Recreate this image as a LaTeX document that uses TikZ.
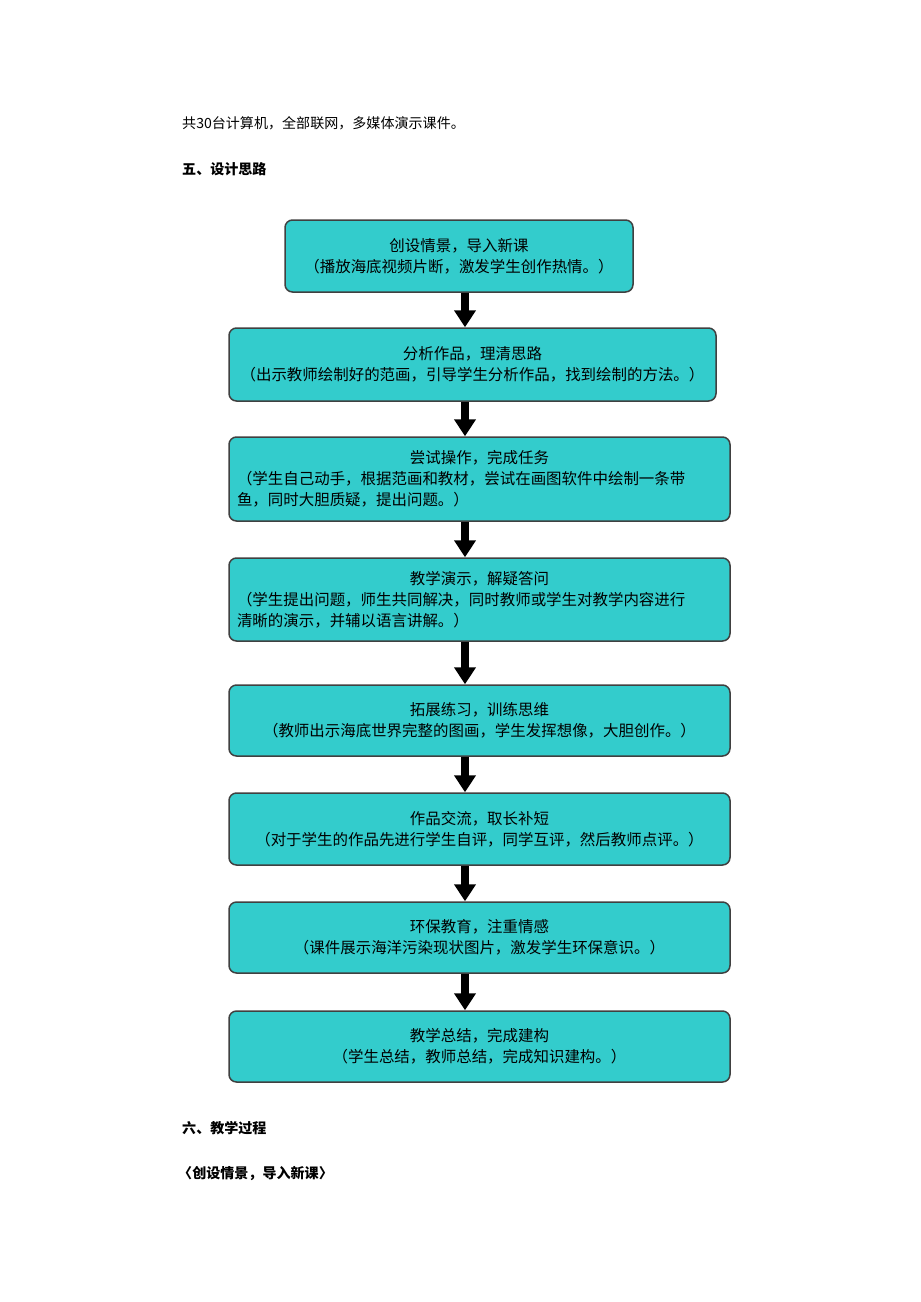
\documentclass[tikz,border=0pt]{standalone}
\usepackage{fontspec}
\setmainfont{Noto Sans CJK SC}
\usetikzlibrary{arrows.meta,positioning}
\definecolor{boxfill}{HTML}{33CCCC}
\tikzset{
  stage/.style={draw=black!75, line width=0.03cm, fill=boxfill, rounded corners=0.15cm,
    align=center, font=\fontsize{8.8pt}{12pt}\selectfont, inner sep=0pt},
  flow/.style={line width=0.15cm, -{Triangle[width=0.42cm,length=0.34cm]}},
  plain/.style={anchor=west, font=\fontsize{8pt}{10pt}\selectfont}
}
\begin{document}
\begin{tikzpicture}[x=0.02cm,y=-0.02cm]
  \useasboundingbox (0,0) rectangle (920,1302);
  \node[plain] (intro) at (176,123) {共30台计算机，全部联网，多媒体演示课件。};
  \node[plain, font=\fontsize{8pt}{10pt}\bfseries\selectfont] (sec5) at (176,169) {五、设计思路};
  % flow boxes
  \node[stage, minimum width=348*0.02cm, minimum height=72*0.02cm] (s1) at (459,256)
    {创设情景，导入新课\\（播放海底视频片断，激发学生创作热情。）};
  \node[stage, minimum width=487*0.02cm, minimum height=73*0.02cm] (s2) at (472.5,364.5)
    {分析作品，理清思路\\（出示教师绘制好的范画，引导学生分析作品，找到绘制的方法。）};
  \node[stage, minimum width=501*0.02cm, minimum height=84*0.02cm, text width=485*0.02cm, align=left] (s3) at (479.5,479)
    {\makebox[\linewidth][c]{尝试操作，完成任务}\\（学生自己动手，根据范画和教材，尝试在画图软件中绘制一条带\\鱼，同时大胆质疑，提出问题。）};
  \node[stage, minimum width=501*0.02cm, minimum height=83*0.02cm, text width=485*0.02cm, align=left] (s4) at (479.5,599.5)
    {\makebox[\linewidth][c]{教学演示，解疑答问}\\（学生提出问题，师生共同解决，同时教师或学生对教学内容进行\\清晰的演示，并辅以语言讲解。）};
  \node[stage, minimum width=501*0.02cm, minimum height=71*0.02cm] (s5) at (479.5,720.5)
    {拓展练习，训练思维\\（教师出示海底世界完整的图画，学生发挥想像，大胆创作。）};
  \node[stage, minimum width=501*0.02cm, minimum height=72*0.02cm] (s6) at (479.5,829)
    {作品交流，取长补短\\（对于学生的作品先进行学生自评，同学互评，然后教师点评。）};
  \node[stage, minimum width=501*0.02cm, minimum height=71*0.02cm] (s7) at (479.5,937.5)
    {环保教育，注重情感\\（课件展示海洋污染现状图片，激发学生环保意识。）};
  \node[stage, minimum width=501*0.02cm, minimum height=71*0.02cm] (s8) at (479.5,1046.5)
    {教学总结，完成建构\\（学生总结，教师总结，完成知识建构。）};
  % arrows between steps
  \foreach \a/\b in {s1/s2,s2/s3,s3/s4,s4/s5,s5/s6,s6/s7,s7/s8}
    \draw[flow] (\a.south -| 465,0) -- (\b.north -| 465,0);
  \node[plain, font=\fontsize{8pt}{10pt}\bfseries\selectfont] (sec6) at (176,1128) {六、教学过程};
  \node[plain, font=\fontsize{8pt}{10pt}\bfseries\selectfont] (sub1) at (172,1174) {〈创设情景，导入新课〉};
\end{tikzpicture}
\end{document}
